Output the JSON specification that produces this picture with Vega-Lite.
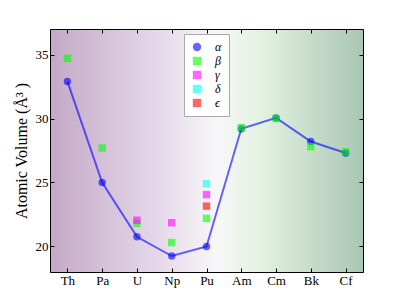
{
  "$schema": "https://vega.github.io/schema/vega-lite/v6.json",
  "width": 313,
  "height": 243,
  "autosize": {"type": "none"},
  "padding": {"left": 50, "top": 29, "right": 40, "bottom": 30},
  "background": "white",
  "config": {
    "view": {
      "stroke": "black",
      "strokeWidth": 1,
      "fill": {
        "gradient": "linear",
        "x1": 0, "y1": 0, "x2": 1, "y2": 0,
        "stops": [
          {"offset": 0, "color": "#c4a9c7"},
          {"offset": 0.35, "color": "#e6d9ea"},
          {"offset": 0.53, "color": "#f8f7f8"},
          {"offset": 0.67, "color": "#e4f2e2"},
          {"offset": 1, "color": "#a9c6b4"}
        ]
      }
    },
    "axis": {
      "labelFont": "Liberation Serif",
      "titleFont": "Liberation Serif",
      "labelFontSize": 13,
      "titleFontSize": 16,
      "titleFontWeight": "normal",
      "labelColor": "black",
      "titleColor": "black",
      "domain": false,
      "tickColor": "black",
      "tickSize": -4,
      "grid": false
    }
  },
  "resolve": {"axis": {"x": "independent", "y": "independent"}},
  "data": {
    "values": [
      {"el": "Th", "phase": "α", "v": 32.9},
      {"el": "Pa", "phase": "α", "v": 25.0},
      {"el": "U", "phase": "α", "v": 20.75},
      {"el": "Np", "phase": "α", "v": 19.25},
      {"el": "Pu", "phase": "α", "v": 20.0},
      {"el": "Am", "phase": "α", "v": 29.2},
      {"el": "Cm", "phase": "α", "v": 30.05},
      {"el": "Bk", "phase": "α", "v": 28.2},
      {"el": "Cf", "phase": "α", "v": 27.3},
      {"el": "Th", "phase": "β", "v": 34.7},
      {"el": "Pa", "phase": "β", "v": 27.7},
      {"el": "U", "phase": "β", "v": 21.8},
      {"el": "Np", "phase": "β", "v": 20.3},
      {"el": "Pu", "phase": "β", "v": 22.2},
      {"el": "Am", "phase": "β", "v": 29.3},
      {"el": "Cm", "phase": "β", "v": 30.0},
      {"el": "Bk", "phase": "β", "v": 27.8},
      {"el": "Cf", "phase": "β", "v": 27.4},
      {"el": "U", "phase": "γ", "v": 22.05},
      {"el": "Np", "phase": "γ", "v": 21.85},
      {"el": "Pu", "phase": "γ", "v": 24.05},
      {"el": "Pu", "phase": "δ", "v": 24.9},
      {"el": "Pu", "phase": "ϵ", "v": 23.15}
    ]
  },
  "layer": [
    {
      "transform": [{"filter": "datum.phase === 'α'"}],
      "mark": {"type": "line", "color": "#0000ff", "opacity": 0.6, "strokeWidth": 2},
      "encoding": {
        "x": {
          "field": "el", "type": "nominal",
          "sort": ["Th", "Pa", "U", "Np", "Pu", "Am", "Cm", "Bk", "Cf"],
          "scale": {"type": "point", "padding": 0.5},
          "axis": {"orient": "bottom", "title": null, "labelAngle": 0, "labelPadding": 6}
        },
        "y": {
          "field": "v", "type": "quantitative",
          "scale": {"domain": [18, 37], "nice": false, "zero": false},
          "axis": {"orient": "left", "title": "Atomic Volume (Å³ )", "values": [20, 25, 30, 35], "labelPadding": 6, "titlePadding": 6}
        }
      }
    },
    {
      "mark": {"type": "point", "filled": true, "opacity": 0.6, "size": 55},
      "encoding": {
        "x": {
          "field": "el", "type": "nominal",
          "sort": ["Th", "Pa", "U", "Np", "Pu", "Am", "Cm", "Bk", "Cf"],
          "axis": null
        },
        "y": {"field": "v", "type": "quantitative", "axis": null},
        "color": {
          "field": "phase", "type": "nominal",
          "scale": {"domain": ["α", "β", "γ", "δ", "ϵ"], "range": ["#0000ff", "#00ff00", "#ff00ff", "#00ffff", "#ff0000"]},
          "legend": {
            "title": null,
            "orient": "none",
            "legendX": 134,
            "legendY": 5,
            "fillColor": "white",
            "strokeColor": "#aaaaaa",
            "padding": 7,
            "rowPadding": 2,
            "symbolSize": 70,
            "symbolOpacity": 0.6,
            "labelOffset": 12,
            "labelFont": "Liberation Serif",
            "labelFontStyle": "italic",
            "labelFontSize": 12,
            "labelColor": "black",
            "cornerRadius": 0
          }
        },
        "shape": {
          "field": "phase", "type": "nominal",
          "scale": {"domain": ["α", "β", "γ", "δ", "ϵ"], "range": ["circle", "square", "square", "square", "square"]},
          "legend": null
        }
      }
    },
    {
      "mark": {"type": "point", "opacity": 0},
      "encoding": {
        "x": {
          "field": "el", "type": "nominal",
          "sort": ["Th", "Pa", "U", "Np", "Pu", "Am", "Cm", "Bk", "Cf"],
          "axis": {"orient": "top", "labels": false, "title": null}
        },
        "y": {
          "field": "v", "type": "quantitative",
          "axis": {"orient": "right", "labels": false, "title": null, "values": [20, 25, 30, 35]}
        }
      }
    }
  ]
}
